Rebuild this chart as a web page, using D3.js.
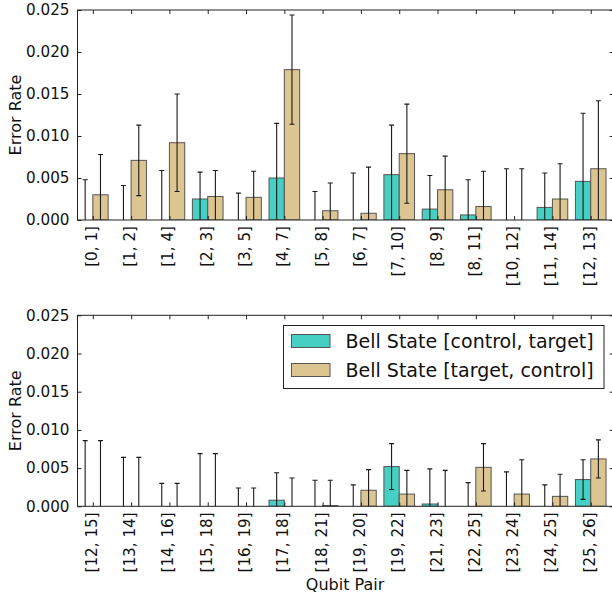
<!DOCTYPE html>
<html><head><meta charset="utf-8">
<script src="https://cdn.jsdelivr.net/npm/d3@7"></script>
<style>body{margin:0;background:#fff}svg{display:block;font-family:"DejaVu Sans",sans-serif}</style>
</head><body>
<script>
const pairsTop = ["[0, 1]","[1, 2]","[1, 4]","[2, 3]","[3, 5]","[4, 7]","[5, 8]","[6, 7]","[7, 10]","[8, 9]","[8, 11]","[10, 12]","[11, 14]","[12, 13]"];
const ctTop = [0, 0, 0, 0.0025, 0, 0.0050, 0, 0, 0.0054, 0.0013, 0.0006, 0, 0.0015, 0.0046];
const tcTop = [0.0030, 0.0071, 0.0092, 0.0028, 0.0027, 0.0179, 0.0011, 0.0008, 0.0079, 0.0036, 0.0016, 0, 0.0025, 0.0061];
const ctErrTop = [0.0048, 0.0041, 0.0059, 0.0032, 0.0032, 0.0065, 0.0034, 0.0056, 0.0059, 0.0040, 0.0042, 0.0061, 0.0041, 0.0081];
const tcErrTop = [0.0048, 0.0042, 0.0058, 0.0031, 0.0031, 0.0065, 0.0033, 0.0055, 0.0059, 0.0040, 0.0042, 0.0061, 0.0042, 0.0081];

const pairsBot = ["[12, 15]","[13, 14]","[14, 16]","[15, 18]","[16, 19]","[17, 18]","[18, 21]","[19, 20]","[19, 22]","[21, 23]","[22, 25]","[23, 24]","[24, 25]","[25, 26]"];
const ctBot = [0, 0, 0, 0, 0, 0.0008, 0, 0, 0.0052, 0.0003, 0, 0, 0, 0.0035];
const tcBot = [0, 0, 0, 0, 0, 0, 0.0001, 0.0021, 0.0016, 0, 0.0051, 0.0016, 0.0013, 0.0062];
const ctErrBot = [0.0086, 0.0064, 0.0030, 0.0069, 0.0024, 0.0036, 0.0034, 0.0028, 0.0030, 0.0046, 0.0031, 0.0045, 0.0028, 0.0026];
const tcErrBot = [0.0086, 0.0064, 0.0030, 0.0069, 0.0024, 0.0037, 0.0033, 0.0027, 0.0031, 0.0047, 0.0031, 0.0045, 0.0029, 0.0025];

const yTicks = [0, 0.005, 0.010, 0.015, 0.020, 0.025];
const seriesNames = ["Bell State [control, target]", "Bell State [target, control]"];
const colors = ["#46D0C3", "#DDC591"];

const W = 612, H = 597;
const svg = d3.select("body").append("svg").attr("width", W).attr("height", H);

const barW = 0.4;
function panel(id, pairs, ct, tc, ctErr, tcErr, top, bottom, showXLabel) {
  const x = d3.scaleLinear().domain([0, pairs.length]).range([77.5, 613.7]);
  const y = d3.scaleLinear().domain([0, 0.025]).range([bottom, top]);
  const g = svg.append("g");
  const L = x.range()[0], R = x.range()[1];
  g.append("clipPath").attr("id", id).append("rect")
    .attr("x", L).attr("y", top).attr("width", R - L).attr("height", bottom - top);
  const plot = g.append("g").attr("clip-path", `url(#${id})`);
  const series = [
    {vals: ct, errs: ctErr, off: 0, color: colors[0]},
    {vals: tc, errs: tcErr, off: barW, color: colors[1]}
  ];
  series.forEach(s => {
    plot.selectAll(null).data(s.vals).enter().append("rect")
      .attr("x", (d, i) => x(i + s.off))
      .attr("width", x(barW) - x(0))
      .attr("y", d => y(d))
      .attr("height", d => y(0) - y(d))
      .attr("fill", s.color)
      .attr("stroke", d => d > 0 ? "#555" : "none")
      .attr("stroke-width", 1);
  });
  series.forEach(s => {
    s.vals.forEach((v, i) => {
      const cx = x(i + s.off + barW / 2);
      const y1 = y(v + s.errs[i]), y0 = y(v - s.errs[i]);
      plot.append("line").attr("x1", cx).attr("x2", cx).attr("y1", y1).attr("y2", y0)
        .attr("stroke", "#1a1a1a").attr("stroke-width", 1.1);
      [y1, y0].forEach(yy => plot.append("line").attr("x1", cx - 2.5).attr("x2", cx + 2.5)
        .attr("y1", yy).attr("y2", yy).attr("stroke", "#1a1a1a").attr("stroke-width", 1.1));
    });
  });
  g.append("rect").attr("x", L).attr("y", top).attr("width", R - L).attr("height", bottom - top)
    .attr("fill", "none").attr("stroke", "#222").attr("stroke-width", 1);
  const ya = d3.axisLeft(y).tickValues(yTicks).tickFormat(d3.format(".3f")).tickSizeInner(-4).tickSizeOuter(0).tickPadding(8);
  const yg = g.append("g").attr("transform", `translate(${L},0)`).call(ya);
  yg.select(".domain").remove();
  yg.selectAll("text").attr("font-size", 15.2).attr("fill", "#111").attr("font-family", "DejaVu Sans");
  yg.selectAll("line").attr("stroke", "#222");
  const yr = d3.axisRight(y).tickValues(yTicks).tickFormat("").tickSizeInner(-4).tickSizeOuter(0);
  const yrg = g.append("g").attr("transform", `translate(${R},0)`).call(yr);
  yrg.select(".domain").remove();
  yrg.selectAll("line").attr("stroke", "#222");
  const xa = d3.axisBottom(x).tickValues(pairs.map((p, i) => i + barW)).tickFormat((d, i) => pairs[i]).tickSizeInner(-4).tickSizeOuter(0).tickPadding(0);
  const xg = g.append("g").attr("transform", `translate(0,${bottom})`).call(xa);
  xg.select(".domain").remove();
  xg.selectAll("line").attr("stroke", "#222");
  xg.selectAll("text").attr("font-size", 15.2).attr("fill", "#111").attr("font-family", "DejaVu Sans")
    .attr("text-anchor", "end").attr("dy", null).attr("y", 0)
    .attr("transform", "translate(-1,6) rotate(-90)").attr("x", 0).attr("dominant-baseline", "middle");
  const xt = d3.axisTop(x).tickValues(pairs.map((p, i) => i + barW)).tickFormat("").tickSizeInner(-4).tickSizeOuter(0);
  const xtg = g.append("g").attr("transform", `translate(0,${top})`).call(xt);
  xtg.select(".domain").remove();
  xtg.selectAll("line").attr("stroke", "#222");
  g.append("text").attr("transform", `translate(21,${(top + bottom) / 2}) rotate(-90)`)
    .attr("text-anchor", "middle").attr("font-size", 16).attr("fill", "#111").text("Error Rate");
  if (showXLabel) {
    g.append("text").attr("x", (L + R) / 2 - 0.5).attr("y", 590)
      .attr("text-anchor", "middle").attr("font-size", 16).attr("fill", "#111").text("Qubit Pair");
  }
  return {x, y};
}

panel("c1", pairsTop, ctTop, tcTop, ctErrTop, tcErrTop, 10, 220, false);
panel("c2", pairsBot, ctBot, tcBot, ctErrBot, tcErrBot, 315.3, 506.3, true);

const lg = svg.append("g");
lg.append("rect").attr("x", 283.5).attr("y", 325.5).attr("width", 320.5).attr("height", 63)
  .attr("fill", "#fff").attr("stroke", "#222").attr("stroke-width", 1);
seriesNames.forEach((n, i) => {
  const yy = 334.5 + i * 29;
  lg.append("rect").attr("x", 291.5).attr("y", yy).attr("width", 38.5).attr("height", 13)
    .attr("fill", colors[i]).attr("stroke", "#555").attr("stroke-width", 1);
  lg.append("text").attr("x", 345.5).attr("y", yy + 6.5).attr("dominant-baseline", "central")
    .attr("font-size", 19).attr("fill", "#111").text(n);
});
</script>
</body></html>
